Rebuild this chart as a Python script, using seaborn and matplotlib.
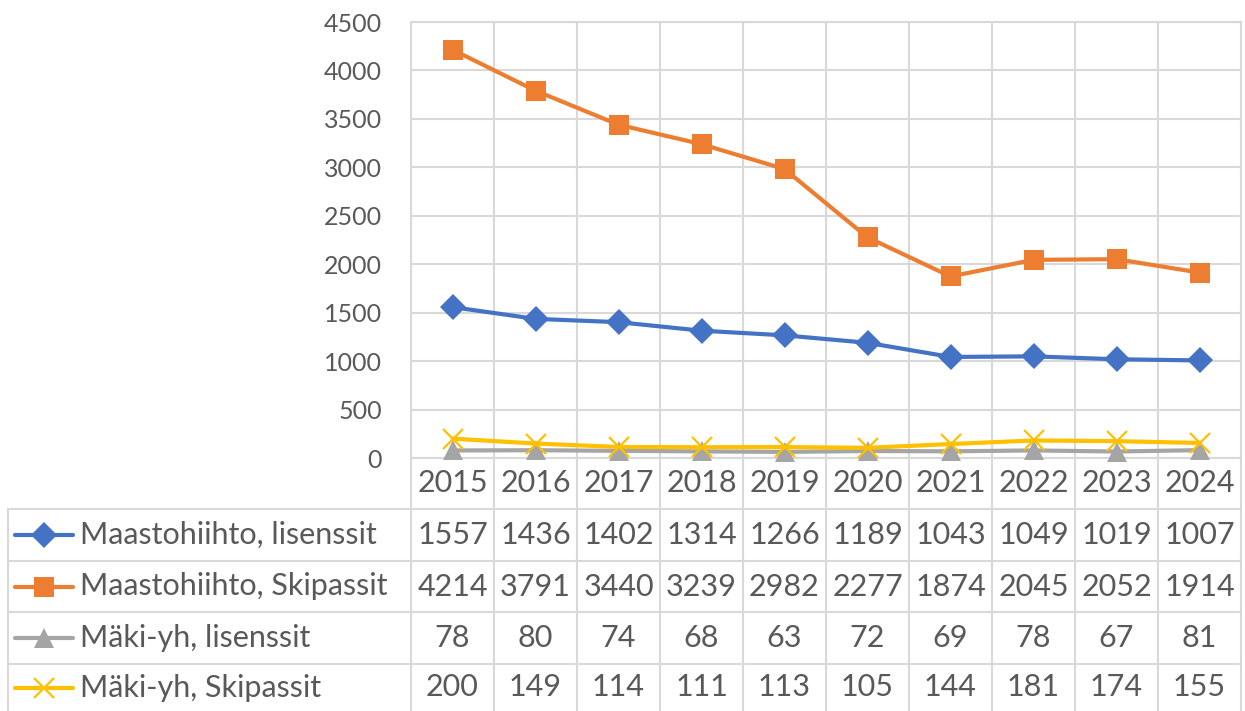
import pandas as pd
import matplotlib
matplotlib.use('Agg')
import matplotlib.pyplot as plt
import matplotlib.transforms as mtransforms
from matplotlib.lines import Line2D
import seaborn as sns

# data
years = [2015, 2016, 2017, 2018, 2019, 2020, 2021, 2022, 2023, 2024]
series_names = ['Maastohiihto, lisenssit', 'Maastohiihto, Skipassit',
                'Mäki-yh, lisenssit', 'Mäki-yh, Skipassit']
maasto_lisenssit = [1557, 1436, 1402, 1314, 1266, 1189, 1043, 1049, 1019, 1007]
maasto_skipassit = [4214, 3791, 3440, 3239, 2982, 2277, 1874, 2045, 2052, 1914]
maki_lisenssit = [78, 80, 74, 68, 63, 72, 69, 78, 67, 81]
maki_skipassit = [200, 149, 114, 111, 113, 105, 144, 181, 174, 155]
y_ticks = [0, 500, 1000, 1500, 2000, 2500, 3000, 3500, 4000, 4500]

colors = ['#4472C4', '#ED7D31', '#A5A5A5', '#FFC000']
markers = ['D', 's', '^', 'x']
msizes = [13, 14, 14, 14]
lw = 3.0
text_color = '#595959'
grid_color = '#D9D9D9'
all_values = [maasto_lisenssit, maasto_skipassit, maki_lisenssit, maki_skipassit]

sns.set_theme(style='white')
plt.rcParams['font.family'] = ['Lato', 'DejaVu Sans']

W, H = 1245, 711
fig = plt.figure(figsize=(W / 100, H / 100), dpi=100)
L, R, T, B = 411, 1241, 22, 458
ax = fig.add_axes([L / W, 1 - B / H, (R - L) / W, (B - T) / H])

def marker_kw(m, c, s):
    if m == 'x':
        return dict(marker='x', markersize=s, markeredgewidth=1.6, markeredgecolor=c)
    return dict(marker=m, markersize=s, markeredgewidth=0)

for name, vals, c, m, s in zip(series_names, all_values, colors, markers, msizes):
    d = pd.DataFrame({'Vuosi': years, 'Arvo': vals})
    sns.lineplot(data=d, x='Vuosi', y='Arvo', color=c, linewidth=lw,
                 ax=ax, zorder=3, clip_on=False, **marker_kw(m, c, s))

ax.set_xlim(years[0] - 0.5, years[-1] + 0.5)
ax.set_ylim(0, 4500)
ax.set_yticks(y_ticks)
ax.set_yticklabels([str(t) for t in y_ticks])
ax.set_xticks([y + 0.5 for y in years[:-1]], minor=True)
ax.set_xticks([])
ax.grid(True, which='major', axis='y', color=grid_color, linewidth=1.5)
ax.grid(True, which='minor', axis='x', color=grid_color, linewidth=1.5)
ax.tick_params(axis='y', length=0, labelsize=18, labelcolor=text_color, pad=21)
ax.tick_params(axis='x', which='both', length=0)
ax.set_xlabel('')
ax.set_ylabel('')
for s in ax.spines.values():
    s.set_color(grid_color)
    s.set_linewidth(1.5)
ax.spines['bottom'].set_visible(False)

# data table below the plot: x in data units, y in figure pixels from top
pix = mtransforms.Affine2D().scale(1 / W, -1 / H).translate(0, 1) + fig.transFigure
tr = mtransforms.blended_transform_factory(ax.transData, pix)

row_edges = [458, 509, 561, 612, 664, 711]
col_w = (R - L) / len(years)
left_edge = years[0] - 0.5 - (L - 8) / col_w
right_edge = years[-1] + 0.5
lk = dict(color=grid_color, linewidth=1.5, transform=tr, clip_on=False)
ax.add_line(Line2D([years[0] - 0.5, right_edge], [row_edges[0]] * 2, **lk))
for yy in row_edges[1:-1]:
    ax.add_line(Line2D([left_edge, right_edge], [yy, yy], **lk))
for k in range(len(years) + 1):
    xx = years[0] - 0.5 + k
    ax.add_line(Line2D([xx, xx], [row_edges[0], row_edges[-1]], **lk))
ax.add_line(Line2D([left_edge, left_edge], [row_edges[1], row_edges[-1]], **lk))

fs = 22
for yr in years:
    ax.text(yr, (row_edges[0] + row_edges[1]) / 2, str(yr), transform=tr,
            ha='center', va='center', fontsize=fs, color=text_color)
for i, (name, vals) in enumerate(zip(series_names, all_values)):
    yc = (row_edges[i + 1] + row_edges[i + 2]) / 2
    for yr, v in zip(years, vals):
        ax.text(yr, yc, str(v), transform=tr, ha='center', va='center',
                fontsize=fs, color=text_color)
    # legend key
    x0 = left_edge + 7 / col_w
    x1 = left_edge + 65 / col_w
    ax.add_line(Line2D([x0, x1], [yc, yc], color=colors[i], linewidth=lw,
                       transform=tr, clip_on=False, solid_capstyle='round'))
    ax.add_line(Line2D([(x0 + x1) / 2], [yc], color=colors[i], transform=tr,
                       clip_on=False, linestyle='none',
                       **marker_kw(markers[i], colors[i], msizes[i])))
    ax.text(left_edge + 72 / col_w, yc, name, transform=tr, ha='left',
            va='center', fontsize=fs, color=text_color)

fig.savefig('out.png', dpi=100)
